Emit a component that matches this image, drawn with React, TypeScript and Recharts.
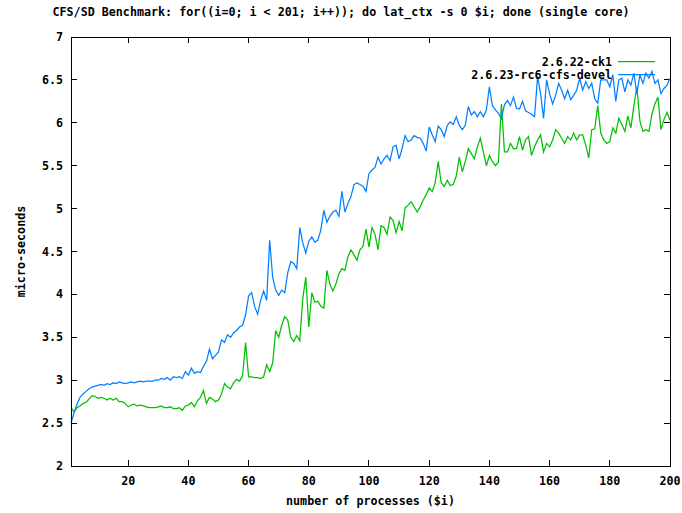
import React from 'react';
import { LineChart, Line, XAxis, YAxis, Label, ReferenceLine } from 'recharts';

const chartTitle = 'CFS/SD Benchmark: for((i=0; i < 201; i++)); do lat_ctx -s 0 $i; done (single core)';
const xAxisTitle = 'number of processes ($i)';
const yAxisTitle = 'micro-seconds';
const seriesNames = ['2.6.22-ck1', '2.6.23-rc6-cfs-devel'];
const seriesColors = ['#00c000', '#0080ff'];

const processes = Array.from({ length: 200 }, (_, i) => i + 1);

const ck1 = [
  2.68, 2.63, 2.68, 2.70, 2.73, 2.74, 2.78, 2.82, 2.81, 2.79,
  2.80, 2.79, 2.77, 2.79, 2.77, 2.79, 2.75, 2.75, 2.73, 2.69,
  2.71, 2.72, 2.70, 2.71, 2.70, 2.69, 2.68, 2.68, 2.68, 2.69,
  2.70, 2.68, 2.68, 2.69, 2.67, 2.67, 2.68, 2.65, 2.70, 2.71,
  2.74, 2.69, 2.76, 2.80, 2.88, 2.73, 2.80, 2.78, 2.75, 2.77,
  2.84, 2.96, 2.92, 2.90, 2.97, 3.01, 2.99, 3.05, 3.44, 3.04,
  3.04, 3.03, 3.03, 3.02, 3.04, 3.18, 3.10, 3.20, 3.58, 3.50,
  3.64, 3.74, 3.70, 3.50, 3.45, 3.52, 3.46, 3.95, 4.20, 3.62,
  4.02, 3.91, 3.92, 3.86, 3.84, 4.28, 4.12, 4.04, 4.12, 4.24,
  4.30, 4.28, 4.44, 4.52, 4.46, 4.40, 4.52, 4.56, 4.76, 4.55,
  4.78, 4.70, 4.52, 4.80, 4.78, 4.70, 4.90, 4.86, 4.72, 4.85,
  4.74, 5.01, 5.04, 5.08, 5.02, 4.96, 5.02, 5.10, 5.16, 5.24,
  5.20, 5.30, 5.55, 5.30, 5.26, 5.33, 5.27, 5.28, 5.38, 5.60,
  5.43, 5.55, 5.70, 5.64, 5.58, 5.72, 5.82, 5.66, 5.50, 5.62,
  5.55, 5.50, 5.54, 6.22, 5.66, 5.66, 5.76, 5.70, 5.70, 5.84,
  5.68, 5.80, 5.84, 5.62, 5.72, 5.80, 5.86, 5.66, 5.76, 5.72,
  5.80, 5.92, 5.88, 5.82, 5.76, 5.84, 5.80, 5.88, 5.80, 5.86,
  5.86, 5.74, 5.59, 5.92, 5.93, 6.20, 5.88, 5.80, 5.76, 5.78,
  5.94, 5.88, 6.05, 5.98, 5.90, 6.08, 5.94, 6.20, 6.42, 6.02,
  5.90, 5.92, 5.90, 6.10, 6.22, 6.30, 5.92, 6.04, 6.12, 6.03,
];

const cfsDevel = [
  2.50, 2.62, 2.72, 2.80, 2.84, 2.87, 2.90, 2.92, 2.93, 2.94,
  2.95, 2.94, 2.96, 2.95, 2.97, 2.96, 2.98, 2.97, 2.96, 2.97,
  2.98, 2.97, 2.98, 2.99, 2.98, 2.99, 2.99, 2.99, 3.00, 3.00,
  3.02, 3.01, 3.03, 3.00, 3.04, 3.03, 3.04, 3.02, 3.10, 3.06,
  3.14, 3.08, 3.10, 3.09, 3.16, 3.22, 3.36, 3.25, 3.29, 3.33,
  3.47, 3.44, 3.53, 3.50, 3.55, 3.58, 3.62, 3.64, 3.76, 3.98,
  4.02, 3.86, 3.77, 3.93, 4.04, 3.93, 4.63, 4.20, 4.05, 3.99,
  4.05, 4.02, 4.25, 4.38, 4.36, 4.30, 4.78, 4.60, 4.48, 4.62,
  4.67, 4.61, 4.63, 4.75, 4.98, 4.84, 4.91, 4.96, 4.98, 4.91,
  5.20, 4.96, 5.06, 5.14, 5.28, 5.30, 5.28, 5.26, 5.20, 5.41,
  5.45, 5.48, 5.60, 5.52, 5.58, 5.62, 5.56, 5.72, 5.74, 5.58,
  5.70, 5.85, 5.78, 5.80, 5.85, 5.83, 5.82, 5.76, 5.67, 5.95,
  5.86, 5.78, 5.96, 5.92, 5.84, 5.97, 6.01, 5.98, 6.07, 5.97,
  5.92, 5.97, 6.19, 6.09, 6.13, 6.07, 6.13, 6.07, 6.15, 6.42,
  6.20, 6.15, 6.11, 6.05, 6.21, 6.26, 6.20, 6.30, 6.17, 6.16,
  6.25, 6.14, 6.12, 6.10, 6.07, 6.54, 6.34, 6.05, 6.50, 6.34,
  6.22, 6.32, 6.46, 6.38, 6.28, 6.38, 6.27, 6.32, 6.38, 6.52,
  6.38, 6.48, 6.40, 6.46, 6.28, 6.23, 6.50, 6.50, 6.50, 6.42,
  6.56, 6.25, 6.50, 6.52, 6.36, 6.50, 6.44, 6.58, 6.34, 6.56,
  6.46, 6.58, 6.52, 6.60, 6.46, 6.50, 6.34, 6.40, 6.44, 6.52,
];

const xTicks = [20, 40, 60, 80, 100, 120, 140, 160, 180, 200];
const yTicks = [2, 2.5, 3, 3.5, 4, 4.5, 5, 5.5, 6, 6.5, 7];
const xDomain: [number, number] = [1, 200];
const yDomain: [number, number] = [2, 7];
// tick mark length expressed in data units (about 6px)
const X_TICK_UNITS = 2;
const Y_TICK_UNITS = 0.07;

const data = processes.map((p, i) => ({ x: p, ck1: ck1[i], cfs: cfsDevel[i] }));

const CHART_W = 682;
const CHART_H = 513;
const MARGIN = { top: 37, right: 12, left: 0, bottom: 0 };

const FONT = {
  fontFamily: '"DejaVu Sans Mono", "Liberation Mono", monospace',
  fontWeight: 'bold' as const,
  fontSize: 11.7,
  fill: '#000',
};
const BORDER = '#000';
const LINE_W = 1.25;

const BottomTick = (props: any) => {
  const { x, y, payload } = props;
  return (
    <text x={x} y={y + 7} textAnchor="middle" dominantBaseline="central" {...FONT}>
      {payload.value}
    </text>
  );
};

const LeftTick = (props: any) => {
  const { x, y, payload } = props;
  return (
    <text x={x} y={y} textAnchor="end" dominantBaseline="central" {...FONT}>
      {payload.value}
    </text>
  );
};

const frameSegments = [
  [{ x: xDomain[0], y: yDomain[1] }, { x: xDomain[1], y: yDomain[1] }],
  [{ x: xDomain[1], y: yDomain[0] }, { x: xDomain[1], y: yDomain[1] }],
  [{ x: xDomain[0], y: yDomain[0] }, { x: xDomain[1], y: yDomain[0] }],
  [{ x: xDomain[0], y: yDomain[0] }, { x: xDomain[0], y: yDomain[1] }],
];

const tickSegments = [
  ...xTicks.map((t) => [{ x: t, y: yDomain[0] }, { x: t, y: yDomain[0] + Y_TICK_UNITS }]),
  ...xTicks.map((t) => [{ x: t, y: yDomain[1] }, { x: t, y: yDomain[1] - Y_TICK_UNITS }]),
  ...yTicks.map((t) => [{ x: xDomain[0], y: t }, { x: xDomain[0] + X_TICK_UNITS, y: t }]),
  ...yTicks.map((t) => [{ x: xDomain[1], y: t }, { x: xDomain[1] - X_TICK_UNITS, y: t }]),
];

// Title, rotated y-label, plot frame and key, drawn from the y-axis label box
const YAxisDecor = (p: any) => {
  const vb = p.viewBox || { x: 0, y: MARGIN.top, width: 71, height: CHART_H - MARGIN.top - 47 };
  const left = vb.x + vb.width;
  const top = vb.y;
  const bottom = vb.y + vb.height;
  const right = CHART_W - MARGIN.right;
  const cy = (top + bottom) / 2;
  const keyTextX = right - 58;
  const keyLineX1 = right - 52;
  const keyLineX2 = right - 15;
  return (
    <g>
      <rect
        x={left}
        y={top}
        width={right - left}
        height={bottom - top}
        fill="none"
        stroke={BORDER}
        strokeWidth={1}
        shapeRendering="crispEdges"
      />
      <text
        x={21}
        y={cy}
        textAnchor="middle"
        dominantBaseline="central"
        transform={`rotate(-90 21 ${cy})`}
        {...FONT}
      >
        {yAxisTitle}
      </text>
      <text x={CHART_W / 2} y={12} textAnchor="middle" dominantBaseline="central" {...FONT}>
        {chartTitle}
      </text>
      {seriesNames.map((name, i) => (
        <g key={name}>
          <text x={keyTextX} y={top + 25 + i * 13} textAnchor="end" dominantBaseline="central" {...FONT}>
            {name}
          </text>
          <line
            x1={keyLineX1}
            x2={keyLineX2}
            y1={top + 24.5 + i * 13}
            y2={top + 24.5 + i * 13}
            stroke={seriesColors[i]}
            strokeWidth={LINE_W}
          />
        </g>
      ))}
    </g>
  );
};

export default function App() {
  return (
    <div style={{ position: 'absolute', left: 0, top: 0, width: CHART_W, height: CHART_H, background: '#fff' }}>
      <LineChart width={CHART_W} height={CHART_H} data={data} margin={MARGIN}>
        <XAxis
          dataKey="x"
          type="number"
          domain={xDomain}
          ticks={xTicks}
          height={47}
          tickLine={false}
          axisLine={false}
          tick={<BottomTick />}
          interval={0}
        >
          <Label
            content={(p: any) => {
              const vb = p.viewBox;
              return (
                <text x={vb.x + vb.width / 2} y={501} textAnchor="middle" dominantBaseline="central" {...FONT}>
                  {xAxisTitle}
                </text>
              );
            }}
          />
        </XAxis>
        <YAxis
          type="number"
          domain={yDomain}
          ticks={yTicks}
          width={71}
          tickLine={false}
          axisLine={false}
          tick={<LeftTick />}
          interval={0}
        >
          <Label content={YAxisDecor} />
        </YAxis>
        {frameSegments.map((seg, i) => (
          <ReferenceLine
            key={'f' + i}
            segment={seg}
            stroke={BORDER}
            strokeWidth={1}
            shapeRendering="crispEdges"
          />
        ))}
        {tickSegments.map((seg, i) => (
          <ReferenceLine
            key={'t' + i}
            segment={seg}
            stroke={BORDER}
            strokeWidth={1}
            shapeRendering="crispEdges"
          />
        ))}
        <Line
          type="linear"
          dataKey="ck1"
          name={seriesNames[0]}
          stroke={seriesColors[0]}
          strokeWidth={LINE_W}
          dot={false}
          activeDot={false}
          isAnimationActive={false}
        />
        <Line
          type="linear"
          dataKey="cfs"
          name={seriesNames[1]}
          stroke={seriesColors[1]}
          strokeWidth={LINE_W}
          dot={false}
          activeDot={false}
          isAnimationActive={false}
        />
      </LineChart>
    </div>
  );
}
